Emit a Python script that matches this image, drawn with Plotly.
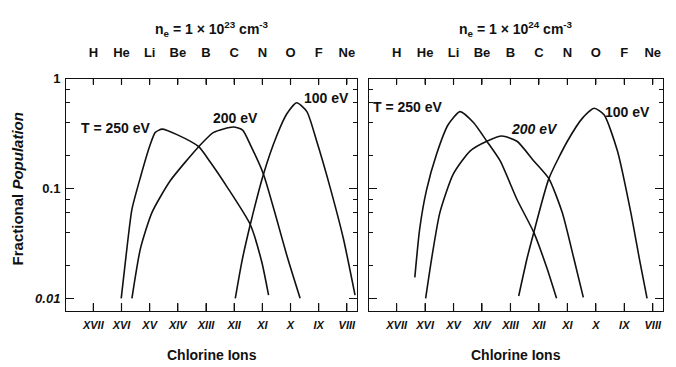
import math
import plotly.graph_objects as go

# ---------------- data ----------------
ion_labels = ["XVII", "XVI", "XV", "XIV", "XIII", "XII", "XI", "X", "IX", "VIII"]
iso_labels = ["H", "He", "Li", "Be", "B", "C", "N", "O", "F", "Ne"]
ion_pos = list(range(10))

# left panel: n_e = 1e23 cm^-3
left_250_x = [0.99, 1.19, 1.37, 1.67, 2.02, 2.20, 2.44, 2.97, 3.74, 4.15, 4.74, 5.57, 5.98, 6.22]
left_250_y = [0.010, 0.0282, 0.0646, 0.126, 0.251, 0.324, 0.347, 0.309, 0.240, 0.174, 0.104, 0.047, 0.0214, 0.0107]
left_200_x = [1.37, 1.67, 2.08, 2.73, 3.74, 4.27, 4.97, 5.30, 5.57, 6.04, 6.51, 6.87, 7.34]
left_200_y = [0.010, 0.0282, 0.0603, 0.1175, 0.240, 0.324, 0.363, 0.340, 0.251, 0.135, 0.0525, 0.0245, 0.010]
left_100_x = [5.04, 5.27, 5.57, 6.04, 6.51, 6.87, 7.22, 7.58, 7.93, 8.40, 8.88, 9.29]
left_100_y = [0.010, 0.0214, 0.0468, 0.135, 0.302, 0.479, 0.603, 0.501, 0.269, 0.1035, 0.0347, 0.0107]

# right panel: n_e = 1e24 cm^-3
right_250_x = [0.64, 0.81, 1.05, 1.40, 1.81, 2.23, 2.70, 3.17, 3.64, 4.23, 4.82, 5.29, 5.62]
right_250_y = [0.0155, 0.0427, 0.0966, 0.204, 0.380, 0.501, 0.398, 0.269, 0.178, 0.0794, 0.0398, 0.0186, 0.010]
right_200_x = [1.02, 1.23, 1.52, 1.99, 2.58, 3.17, 3.70, 4.23, 4.82, 5.35, 5.82, 6.23, 6.56]
right_200_y = [0.010, 0.0229, 0.0603, 0.135, 0.219, 0.269, 0.300, 0.269, 0.178, 0.123, 0.0603, 0.0229, 0.0102]
right_100_x = [4.29, 4.58, 4.82, 5.35, 6.00, 6.53, 6.94, 7.29, 7.76, 8.23, 8.53, 8.80]
right_100_y = [0.0105, 0.0229, 0.0398, 0.123, 0.269, 0.437, 0.537, 0.468, 0.219, 0.0603, 0.0229, 0.010]

major_vals = [0.01, 0.1, 1]
minor_vals = [0.02, 0.04, 0.06, 0.08, 0.2, 0.4, 0.6, 0.8]

FONT = "Liberation Sans"
INK = "#111111"

fig = go.Figure()

def curve(x, y, xa, ya):
    fig.add_trace(go.Scatter(x=x, y=y, xaxis=xa, yaxis=ya, mode="lines",
                             line=dict(color=INK, width=1.6, shape="spline", smoothing=0.6),
                             showlegend=False))

curve(left_250_x, left_250_y, "x", "y")
curve(left_200_x, left_200_y, "x", "y")
curve(left_100_x, left_100_y, "x", "y")
curve(right_250_x, right_250_y, "x2", "y2")
curve(right_200_x, right_200_y, "x2", "y2")
curve(right_100_x, right_100_y, "x2", "y2")
fig.add_trace(go.Scatter(x=[None], y=[None], xaxis="x3", yaxis="y", showlegend=False))
fig.add_trace(go.Scatter(x=[None], y=[None], xaxis="x4", yaxis="y2", showlegend=False))

W, H = 676, 367
XR = [-0.97, 9.36]
YR = [-2.116, 0.0]
ydom = [1 - 310 / H, 1 - 73 / H]
dom_left = [66 / W, 357 / W]
dom_right = [369 / W, 663 / W]
plot_h = 237

common = dict(ticks="inside", tickcolor=INK, showline=True, linecolor=INK)

fig.update_layout(
    width=W, height=H,
    margin=dict(l=0, r=0, t=0, b=0), showlegend=False,
    plot_bgcolor="white",
    xaxis=dict(domain=dom_left, anchor="y", range=XR, tickmode="array", tickvals=ion_pos,
               ticktext=[f"<b><i>{t}</i></b>" for t in ion_labels], ticklen=8, ticklabelstandoff=4,
               tickfont=dict(family=FONT, size=11, color=INK), **common),
    xaxis2=dict(domain=dom_right, anchor="y2", range=XR, tickmode="array", tickvals=ion_pos,
                ticktext=[f"<b><i>{t}</i></b>" for t in ion_labels], ticklen=8, ticklabelstandoff=4,
                tickfont=dict(family=FONT, size=11, color=INK), **common),
    xaxis3=dict(domain=dom_left, anchor="y", overlaying="x", side="top", range=XR, tickmode="array",
                tickvals=ion_pos, ticktext=[f"<b>{t}</b>" for t in iso_labels], ticklen=6,
                ticklabelstandoff=15, tickfont=dict(family=FONT, size=13, color=INK), **common),
    xaxis4=dict(domain=dom_right, anchor="y2", overlaying="x2", side="top", range=XR, tickmode="array",
                tickvals=ion_pos, ticktext=[f"<b>{t}</b>" for t in iso_labels], ticklen=6,
                ticklabelstandoff=15, tickfont=dict(family=FONT, size=13, color=INK), **common),
    yaxis=dict(domain=ydom, anchor="x", type="log", range=YR, tickmode="array", tickvals=major_vals,
               ticktext=["<b><i>0.01</i></b>", "<b>0.1</b>", "<b>1</b>"], ticklen=8, mirror="ticks",
               minor=dict(tickmode="array", tickvals=minor_vals, ticks="inside", ticklen=4, tickcolor=INK),
               ticklabelstandoff=2, tickfont=dict(family=FONT, size=13, color=INK), **common),
    yaxis2=dict(domain=ydom, anchor="x2", type="log", range=YR, tickmode="array", tickvals=major_vals,
                showticklabels=False, ticklen=8, mirror="ticks",
                minor=dict(tickmode="array", tickvals=minor_vals, ticks="inside", ticklen=4, tickcolor=INK),
                **common),
)

# tick marks also drawn as axis-referenced shapes (from the same tick lists)
tick_line = dict(color=INK, width=1.2)
for xa, ya, dom in (("x", "y", dom_left), ("x2", "y2", dom_right)):
    plot_w = (dom[1] - dom[0]) * W
    for v in ion_pos:
        fig.add_shape(type="line", xref=xa, yref=f"{ya} domain", x0=v, x1=v, y0=0, y1=8 / plot_h, line=tick_line)
        fig.add_shape(type="line", xref=xa, yref=f"{ya} domain", x0=v, x1=v, y0=1, y1=1 - 6 / plot_h, line=tick_line)
    for vals, ln in ((major_vals, 8), (minor_vals, 4)):
        for v in vals:
            lv = math.log10(v)
            if lv >= 0:
                continue
            fig.add_shape(type="line", xref=f"{xa} domain", yref=ya, x0=0, x1=ln / plot_w, y0=lv, y1=lv, line=tick_line)
            fig.add_shape(type="line", xref=f"{xa} domain", yref=ya, x0=1, x1=1 - ln / plot_w, y0=lv, y1=lv, line=tick_line)

ann_font = dict(family=FONT, size=14, color=INK)
notes = [
    ("x", "y", 0.82, -0.45, "<b>T = 250 eV</b>"),
    ("x", "y", 5.03, -0.36, "<b>200 eV</b>"),
    ("x", "y", 8.26, -0.18, "<b>100 eV</b>"),
    ("x2", "y2", 0.39, -0.26, "<b>T = 250 eV</b>"),
    ("x2", "y2", 4.84, -0.46, "<b><i>200 eV</i></b>"),
    ("x2", "y2", 8.13, -0.30, "<b>100 eV</b>"),
]
for xr, yr, xv, yv, txt in notes:
    fig.add_annotation(xref=xr, yref=yr, x=xv, y=yv, text=txt, showarrow=False, font=ann_font)

for dom, n in ((dom_left, 23), (dom_right, 24)):
    xc = (dom[0] + dom[1]) / 2
    fig.add_annotation(xref="paper", yref="paper", x=xc, y=1 - 22 / H, xanchor="center", yanchor="middle",
                       text=f"<b>n<sub>e</sub> = 1 × 10<sup>{n}</sup> cm<sup>-3</sup></b>",
                       showarrow=False, font=dict(family=FONT, size=14, color=INK))
    fig.add_annotation(xref="paper", yref="paper", x=xc, y=1 - 355 / H, xanchor="center", yanchor="middle",
                       text="<b>Chlorine Ions</b>", showarrow=False, font=dict(family=FONT, size=14, color=INK))
fig.add_annotation(xref="paper", yref="paper", x=17 / W, y=1 - 186 / H, xanchor="center", yanchor="middle",
                   textangle=-90, text="<b>Fractional <i>Population</i></b>", showarrow=False,
                   font=dict(family=FONT, size=15, color=INK))

fig.write_html("out.html")
